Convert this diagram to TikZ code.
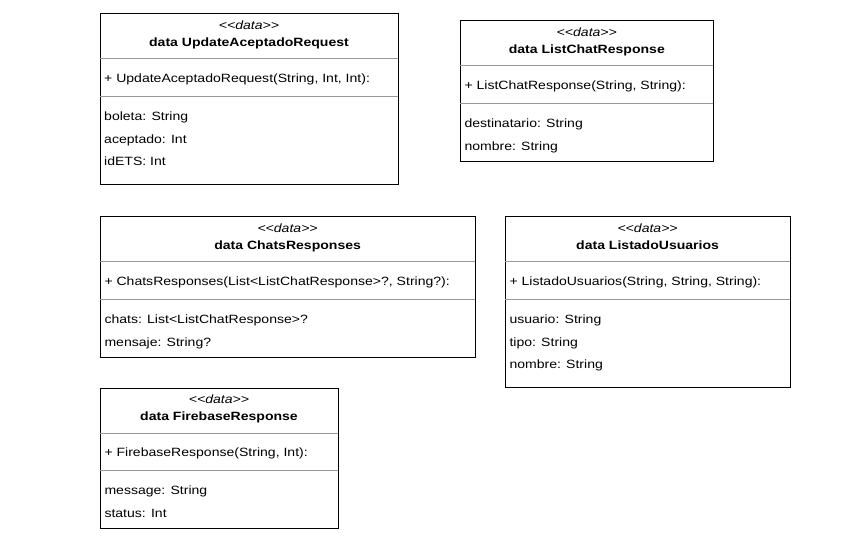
\documentclass[tikz,border=0pt]{standalone}
\usepackage{fontspec}
\setmainfont[FakeStretch=1.17,Ligatures=NoCommon]{Liberation Sans}
\definecolor{sepgray}{HTML}{999999}
\newcommand{\stereodata}{\textless\kern0pt\textless data\textgreater\kern0pt\textgreater}
\begin{document}
\begin{tikzpicture}[x=1pt,y=-1pt,font=\fontsize{12}{14}\selectfont,
  box/.style={draw=black,line width=1pt,anchor=north west,inner sep=0pt},
  sepline/.style={draw=sepgray,line width=1pt},
  txt/.style={anchor=base west,inner sep=0pt},
  stereo/.style={anchor=base,inner sep=0pt,font=\fontsize{12}{14}\selectfont\itshape},
  title/.style={anchor=base,inner sep=0pt,font=\fontsize{12}{14}\selectfont\bfseries}]
\useasboundingbox (0,0) rectangle (850,542);

% Box 1: UpdateAceptadoRequest
\node[box,minimum width=298pt,minimum height=171pt] (b1) at (100,13) {};
\draw[sepline] (100,58.5) -- (398,58.5);
\draw[sepline] (100,96.3) -- (398,96.3);
\node[stereo] (b1s) at (249,29.5) {\stereodata};
\node[title] (b1t) at (249,46) {data UpdateAceptadoRequest};
\node[txt] (b1m) at (104,82) {+ UpdateAceptadoRequest(String, Int, Int):};
\node[txt] (b1f1) at (104,120.5) {boleta: String};
\node[txt] (b1f2) at (104,143) {aceptado: Int};
\node[txt] (b1f3) at (104,165.5) {idETS: Int};

% Box 2: ListChatResponse
\node[box,minimum width=253pt,minimum height=140.5pt] (b2) at (460.3,20.3) {};
\draw[sepline] (460.3,65.6) -- (713.3,65.6);
\draw[sepline] (460.3,103.3) -- (713.3,103.3);
\node[stereo] (b2s) at (586.8,36.6) {\stereodata};
\node[title] (b2t) at (586.8,53.3) {data ListChatResponse};
\node[txt] (b2m) at (464.3,89.3) {+ ListChatResponse(String, String):};
\node[txt] (b2f1) at (464.3,127.5) {destinatario: String};
\node[txt] (b2f2) at (464.3,150) {nombre: String};

% Box 3: ChatsResponses
\node[box,minimum width=374.7pt,minimum height=140.7pt] (b3) at (100.3,216) {};
\draw[sepline] (100.3,261.5) -- (475,261.5);
\draw[sepline] (100.3,299.3) -- (475,299.3);
\node[stereo] (b3s) at (287.6,232.5) {\stereodata};
\node[title] (b3t) at (287.6,249) {data ChatsResponses};
\node[txt] (b3m) at (104.3,285.3) {+ ChatsResponses(List<ListChatResponse>?, String?):};
\node[txt] (b3f1) at (104.3,323.5) {chats: List<ListChatResponse>?};
\node[txt] (b3f2) at (104.3,346) {mensaje: String?};

% Box 4: ListadoUsuarios
\node[box,minimum width=284.7pt,minimum height=170.7pt] (b4) at (505.3,216) {};
\draw[sepline] (505.3,261.5) -- (790,261.5);
\draw[sepline] (505.3,299.3) -- (790,299.3);
\node[stereo] (b4s) at (647.6,232.5) {\stereodata};
\node[title] (b4t) at (647.6,249) {data ListadoUsuarios};
\node[txt] (b4m) at (509.3,285.3) {+ ListadoUsuarios(String, String, String):};
\node[txt] (b4f1) at (509.3,323.5) {usuario: String};
\node[txt] (b4f2) at (509.3,346) {tipo: String};
\node[txt] (b4f3) at (509.3,368.5) {nombre: String};

% Box 5: FirebaseResponse
\node[box,minimum width=237.4pt,minimum height=140pt] (b5) at (100.3,388) {};
\draw[sepline] (100.3,433) -- (337.7,433);
\draw[sepline] (100.3,470.7) -- (337.7,470.7);
\node[stereo] (b5s) at (219,403.5) {\stereodata};
\node[title] (b5t) at (219,420.3) {data FirebaseResponse};
\node[txt] (b5m) at (104.3,456.3) {+ FirebaseResponse(String, Int):};
\node[txt] (b5f1) at (104.3,494.5) {message: String};
\node[txt] (b5f2) at (104.3,517) {status: Int};
\end{tikzpicture}
\end{document}
